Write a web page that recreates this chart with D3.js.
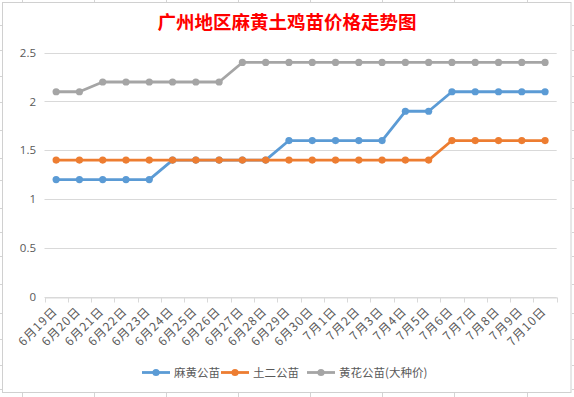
<!DOCTYPE html>
<html><head><meta charset="utf-8">
<script src="https://cdn.jsdelivr.net/npm/d3@7"></script>
<style>html,body{margin:0;padding:0;background:#fff;}svg{display:block;}</style>
</head><body>
<script>
const title = "广州地区麻黄土鸡苗价格走势图";
const categories = ["6月19日","6月20日","6月21日","6月22日","6月23日","6月24日","6月25日","6月26日","6月27日","6月28日","6月29日","6月30日","7月1日","7月2日","7月3日","7月4日","7月5日","7月6日","7月7日","7月8日","7月9日","7月10日"];
const seriesNames = ["麻黄公苗","土二公苗","黄花公苗(大种价)"];
const mahuang = [1.2,1.2,1.2,1.2,1.2,1.4,1.4,1.4,1.4,1.4,1.6,1.6,1.6,1.6,1.6,1.9,1.9,2.1,2.1,2.1,2.1,2.1];
const tuer    = [1.4,1.4,1.4,1.4,1.4,1.4,1.4,1.4,1.4,1.4,1.4,1.4,1.4,1.4,1.4,1.4,1.4,1.6,1.6,1.6,1.6,1.6];
const huanghua= [2.1,2.1,2.2,2.2,2.2,2.2,2.2,2.2,2.4,2.4,2.4,2.4,2.4,2.4,2.4,2.4,2.4,2.4,2.4,2.4,2.4,2.4];
const yTicks = [0,0.5,1,1.5,2,2.5];
const colors = ["#5B9BD5","#ED7D31","#A5A5A5"];

const W=574,H=397;
const svg=d3.select("body").append("svg").attr("width",W).attr("height",H);

// spreadsheet background fragments
const sheetCols=[22,94,166,238,310,382,454,527];
const sheetRows=[25,50.3,76.3,102.3,130.3,158.3,180.3,208.3,232.3,256.3,284.3,313.3,339.3,364.7,389.3];
sheetCols.forEach(x=>{
  svg.append("line").attr("x1",x+0.5).attr("x2",x+0.5).attr("y1",0).attr("y2",2).attr("stroke","#d4d4d4");
  svg.append("line").attr("x1",x+0.5).attr("x2",x+0.5).attr("y1",393).attr("y2",H).attr("stroke","#d4d4d4");
});
sheetRows.forEach(y=>{
  svg.append("line").attr("x1",0).attr("x2",2).attr("y1",Math.round(y)+0.5).attr("y2",Math.round(y)+0.5).attr("stroke","#d4d4d4");
  svg.append("line").attr("x1",572).attr("x2",W).attr("y1",Math.round(y)+0.5).attr("y2",Math.round(y)+0.5).attr("stroke","#d4d4d4");
});
// chart border
svg.append("rect").attr("x",2.5).attr("y",2.5).attr("width",568.5).attr("height",390).attr("fill","#fff").attr("stroke","#d0d0d0");

// title
svg.append("text").attr("x",287).attr("y",29).attr("text-anchor","middle")
  .attr("font-family","'Noto Sans CJK SC',sans-serif").attr("font-size",18.5).attr("font-weight","bold")
  .attr("fill","#FF0000").text(title);

const x=d3.scaleBand().domain(categories).range([44.5,556.7]);
const y=d3.scaleLinear().domain([0,2.5]).range([296.7,52.7]);

// gridlines
svg.append("g").selectAll("line").data(yTicks).join("line")
  .attr("x1",44.5).attr("x2",556.7)
  .attr("y1",d=>Math.round(y(d))+0.5).attr("y2",d=>Math.round(y(d))+0.5)
  .attr("stroke","#D9D9D9").attr("stroke-width",1);

// y labels
svg.append("g").selectAll("text").data(yTicks).join("text")
  .attr("x",36).attr("y",d=>y(d)+4).attr("text-anchor","end")
  .attr("font-family","'Open Sans','Noto Sans',sans-serif").attr("font-size",11.5).attr("fill","#595959")
  .text(d=>d);

// x axis
const xAxis=d3.axisBottom(x).tickSize(5).tickSizeOuter(0).tickFormat("");
const gx=svg.append("g").attr("transform",`translate(0,${Math.round(y(0))+0.5})`).call(xAxis);
gx.select(".domain").attr("stroke","#D9D9D9");
gx.selectAll(".tick").remove();
const bounds=[...categories.map(c=>x(c)),x(categories[categories.length-1])+x.bandwidth()];
gx.selectAll("line.b").data(bounds).join("line").attr("class","b")
  .attr("x1",d=>Math.round(d)+0.5).attr("x2",d=>Math.round(d)+0.5).attr("y1",0).attr("y2",5).attr("stroke","#D9D9D9");

// x labels
svg.append("g").selectAll("text").data(categories).join("text")
  .attr("transform",d=>`translate(${x(d)+x.bandwidth()/2+2},${312}) rotate(-45)`)
  .attr("text-anchor","end")
  .attr("font-family","'Noto Sans CJK SC',sans-serif").attr("font-size",12).attr("letter-spacing",1)
  .attr("fill","#595959")
  .text(d=>d);

// series
const allSeries=[mahuang,tuer,huanghua];
const line=d3.line().x((d,i)=>x(categories[i])+x.bandwidth()/2).y(d=>y(d));
allSeries.forEach((vals,k)=>{
  svg.append("path").datum(vals).attr("d",line).attr("fill","none")
    .attr("stroke",colors[k]).attr("stroke-width",2.8).attr("stroke-linejoin","round").attr("stroke-linecap","round");
  svg.append("g").selectAll("circle").data(vals).join("circle")
    .attr("cx",(d,i)=>x(categories[i])+x.bandwidth()/2).attr("cy",d=>y(d)).attr("r",3.6)
    .attr("fill",colors[k]);
});

// legend
const legX=[142,221,307];
seriesNames.forEach((n,k)=>{
  const g=svg.append("g").attr("transform",`translate(${legX[k]},372.5)`);
  g.append("line").attr("x1",0).attr("x2",28).attr("y1",0).attr("y2",0).attr("stroke",colors[k]).attr("stroke-width",2.8);
  g.append("circle").attr("cx",14).attr("cy",0).attr("r",3.6).attr("fill",colors[k]);
  g.append("text").attr("x",32).attr("y",4).attr("font-family","'Noto Sans CJK SC',sans-serif")
    .attr("font-size",11.5).attr("fill","#595959").text(n);
});
</script>
</body></html>
